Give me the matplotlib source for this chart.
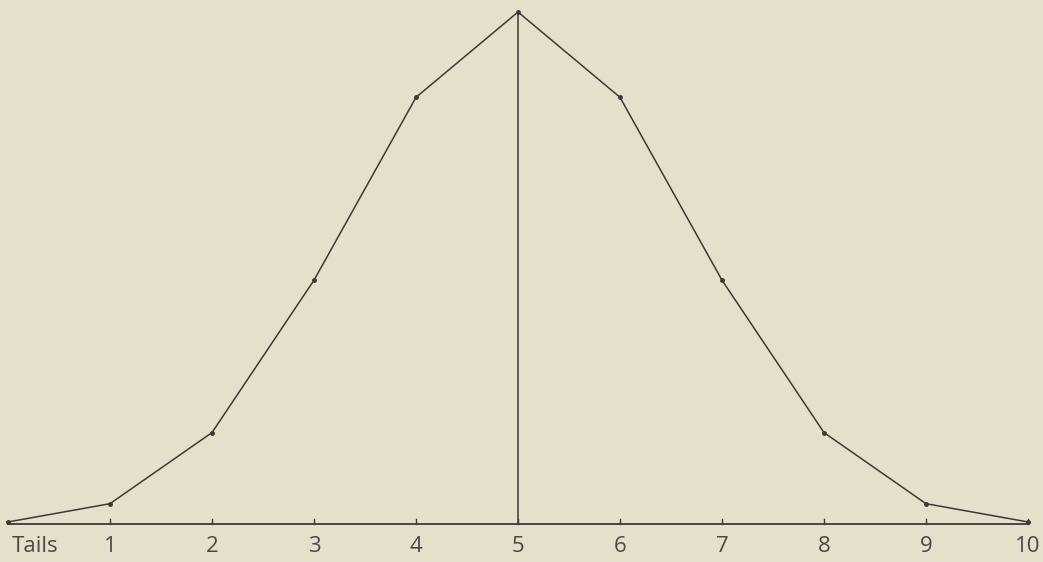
import matplotlib.pyplot as plt

# Number of tails in 10 tosses and their frequencies (binomial coefficients)
tails = [0, 1, 2, 3, 4, 5, 6, 7, 8, 9, 10]
counts = [1, 10, 45, 120, 210, 252, 210, 120, 45, 10, 1]
tick_labels = ["1", "2", "3", "4", "5", "6", "7", "8", "9", "10"]

bg = "#e6dfcb"
ink = "#3b3a36"

fig = plt.figure(figsize=(10.43, 5.62), dpi=100, facecolor=bg)
ax = fig.add_axes([0, 0, 1, 1], facecolor=bg)

px_x = 102.0
px_y = 512.0 / 252
ax.set_xlim(-8 / px_x, 10 + 15 / px_x)
ax.set_ylim(-38 / px_y, 252 + 12 / px_y)
ax.axis("off")

# baseline
ax.plot([tails[0], tails[-1]], [0, 0], color=ink, lw=1.3)
# polygon
ax.plot(tails, counts, color=ink, lw=1.1, marker="o", ms=2.5)
# central ordinate
ax.plot([5, 5], [0, max(counts)], color=ink, lw=1.1)

# small ticks
for t in tails[1:]:
    ax.plot([t, t], [0, 5 / px_y], color=ink, lw=1.0)

font = ["Open Sans", "DejaVu Sans"]
lab_col = "#4a4945"
ax.text(0.27, -23 / px_y, "Tails", ha="center", va="center",
        fontsize=16, color=lab_col, family=font)
for t, lab in zip(tails[1:], tick_labels):
    ax.text(t, -23 / px_y, lab, ha="center", va="center",
            fontsize=16, color=lab_col, family=font)

fig.savefig("out.png", dpi=100, facecolor=bg)
